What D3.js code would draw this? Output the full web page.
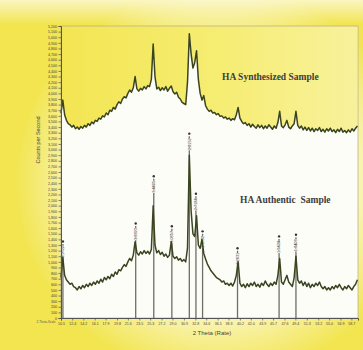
<!DOCTYPE html>
<html><head><meta charset="utf-8">
<script src="https://cdn.jsdelivr.net/npm/d3@7"></script>
<style>html,body{margin:0;padding:0;background:#fff;overflow:hidden}svg{display:block}</style>
</head><body><svg id="chart" width="363" height="350"></svg>
<script>
// ---------- DATA ----------
const twoTheta = [
10.5,10.8,11.1,11.4,11.7,12.0,12.3,12.6,12.9,13.2,
13.5,13.8,14.1,14.4,14.7,15.0,15.3,15.6,15.9,16.2,
16.5,16.8,17.1,17.4,17.7,18.0,18.3,18.6,18.9,19.2,
19.5,19.8,20.1,20.4,20.7,21.0,21.3,21.6,21.9,22.2,
22.5,22.8,23.1,23.4,23.7,24.0,24.3,24.6,24.9,25.2,
25.5,25.8,26.1,26.4,26.7,27.0,27.3,27.6,27.9,28.2,
28.5,28.8,29.1,29.4,29.7,30.0,30.3,30.6,30.9,31.2,
31.5,31.8,32.1,32.4,32.7,33.0,33.3,33.6,33.9,34.2,
34.5,34.8,35.1,35.4,35.7,36.0,36.3,36.6,36.9,37.2,
37.5,37.8,38.1,38.4,38.7,39.0,39.3,39.6,39.9,40.2,
40.5,40.8,41.1,41.4,41.7,42.0,42.3,42.6,42.9,43.2,
43.5,43.8,44.1,44.4,44.7,45.0,45.3,45.6,45.9,46.2,
46.5,46.8,47.1,47.4,47.7,48.0,48.3,48.6,48.9,49.2,
49.5,49.8,50.1,50.4,50.7,51.0,51.3,51.6,51.9,52.2,
52.5,52.8,53.1,53.4,53.7,54.0,54.3,54.6,54.9,55.2,
55.5,55.8,56.1,56.4,56.7,57.0,57.3,57.6,57.9,58.2,
58.5,58.8,59.1,59.4,59.7];

const synthesizedCounts = [
3650,3880,3620,3520,3460,3440,3400,3430,3370,3400,
3360,3410,3380,3430,3400,3460,3430,3490,3460,3520,
3500,3560,3540,3600,3580,3650,3620,3700,3680,3750,
3720,3800,3850,3820,3900,3940,3920,4000,4060,4020,
4100,4300,4080,4040,4090,4060,4120,4080,4140,4120,
4250,4880,4300,4080,4110,4050,4100,4060,4120,4040,
4090,4130,4030,3990,4020,3930,3900,3840,3820,3800,
4200,5060,4700,4450,4550,4760,4250,4000,3880,3960,
3780,3720,3680,3700,3650,3660,3620,3640,3590,3600,
3560,3580,3540,3560,3520,3550,3530,3620,3750,3560,
3500,3460,3480,3430,3460,3400,3450,3410,3380,3440,
3390,3430,3370,3420,3380,3440,3400,3360,3420,3380,
3480,3680,3420,3390,3440,3520,3400,3370,3420,3460,
3680,3430,3380,3420,3350,3400,3340,3390,3330,3380,
3320,3370,3340,3390,3320,3360,3310,3370,3330,3380,
3320,3350,3300,3360,3320,3380,3310,3340,3300,3350,
3310,3370,3330,3380,3420];

const authenticCounts = [
720,1080,760,680,640,600,620,560,540,500,
560,520,580,540,600,560,620,580,640,600,
660,620,690,640,720,680,740,700,780,740,
820,780,860,840,900,950,920,1000,1060,1020,
1120,1360,1160,1120,1180,1140,1200,1150,1190,1140,
1220,2000,1300,1160,1200,1130,1170,1100,1140,1080,
1120,1360,1100,1060,1090,1030,1060,1010,1040,1000,
1250,2900,1900,1500,1450,1820,1300,1240,1400,1150,
1050,960,900,840,800,760,720,700,680,640,
660,600,620,580,620,570,640,760,1000,620,
560,600,540,610,560,620,580,640,560,600,
550,620,580,660,600,560,620,580,640,600,
760,1060,640,600,680,760,640,600,560,720,
1100,680,620,660,580,640,560,620,540,600,
560,620,580,640,560,520,560,500,540,500,
560,520,580,540,600,540,500,560,520,580,
540,500,560,600,680];

// reference peak markers of the authentic pattern
const peakPositions = [10.82, 22.9, 25.9, 28.9, 31.8, 32.9, 34.0, 39.8, 46.7, 49.5];
const peakLabelTops = [1390, 1710, 2550, 1660, 3310, 2240, 1570, 1270, 1480, 1510];
const peakLabels = ["8.1720","3.8823","3.4405","3.0857","2.8152","2.7184","2.6332","2.2631","1.9424","1.8408"];

const xTicks = [10.5,12.35,14.2,16.1,17.9,19.8,21.6,23.5,25.3,27.2,29.0,30.9,32.8,34.6,36.5,38.3,40.2,42.0,43.9,45.7,47.6,49.4,51.3,53.2,55.0,56.9,58.7];
const xTickLabels = ["10.5","12.4","14.2","16.1","17.9","19.8","21.6","23.5","25.3","27.2","29.0","30.9","32.8","34.6","36.5","38.3","40.2","42.0","43.9","45.7","47.6","49.4","51.3","53.2","55.0","56.9","58.7"];
const yTicks = [0,100,200,300,400,500,600,700,800,900,1000,1100,1200,1300,1400,1500,1600,1700,1800,1900,2000,2100,2200,2300,2400,2500,2600,2700,2800,2900,3000,3100,3200,3300,3400,3500,3600,3700,3800,3900,4000,4100,4200,4300,4400,4500,4600,4700,4800,4900,5000,5100,5200];

const seriesNames = ["HA Synthesized Sample", "HA Authentic  Sample"];
const xTitle = "2 Theta (Rate)";
const yTitle = "Counts per Second";

// ---------- DRAW ----------
const W = 363, H = 350;
const P = {left: 61, right: 358, top: 26, bottom: 318};
const svg = d3.select('#chart');
const defs = svg.append('defs');

const rad = defs.append('radialGradient').attr('id','glow')
  .attr('cx',0.6).attr('cy',0.52).attr('r',0.56);
rad.append('stop').attr('offset','0%').attr('stop-color','#fff').attr('stop-opacity',1);
rad.append('stop').attr('offset','55%').attr('stop-color','#fff').attr('stop-opacity',0.85);
rad.append('stop').attr('offset','100%').attr('stop-color','#fff').attr('stop-opacity',0);

const topBand = defs.append('linearGradient').attr('id','topBand')
  .attr('x1',0).attr('x2',0).attr('y1',0).attr('y2',1);
topBand.append('stop').attr('offset','0%').attr('stop-color','#fff').attr('stop-opacity',0.65);
topBand.append('stop').attr('offset','7%').attr('stop-color','#fff').attr('stop-opacity',0);

const skyGrad = defs.append('linearGradient').attr('id','sky')
  .attr('x1',0).attr('x2',1).attr('y1',0).attr('y2',0);
skyGrad.append('stop').attr('offset','0%').attr('stop-color','#f3e552');
skyGrad.append('stop').attr('offset','55%').attr('stop-color','#f6ed74');
skyGrad.append('stop').attr('offset','100%').attr('stop-color','#f8f19c');

svg.append('rect').attr('width',W).attr('height',H).attr('fill','#f2e550');
svg.append('rect').attr('width',W).attr('height',H).attr('fill','url(#glow)');
svg.append('rect').attr('width',W).attr('height',H).attr('fill','url(#topBand)');

const x = d3.scaleLinear().domain([10.5, 59.8]).range([P.left, P.right]);
const y = d3.scaleLinear().domain([0, 5200]).range([P.bottom, P.top]);

// plot interior
svg.append('rect').attr('x',P.left).attr('y',P.top)
  .attr('width',P.right-P.left).attr('height',P.bottom-P.top).attr('fill','#fdfdf8');

const synth = twoTheta.map((t,i)=>({t, c: synthesizedCounts[i]}));
const auth = twoTheta.map((t,i)=>({t, c: authenticCounts[i]}));

// yellow region above the upper pattern
svg.append('path').datum(synth)
  .attr('d', d3.area().x(d=>x(d.t)).y0(P.top).y1(d=>y(d.c)))
  .attr('fill','url(#sky)');

// frame
svg.append('rect').attr('x',P.left).attr('y',P.top)
  .attr('width',P.right-P.left).attr('height',P.bottom-P.top)
  .attr('fill','none').attr('stroke','#b8b28a').attr('stroke-width',0.8);

// peak marker lines with labels sitting on them
const mk = svg.append('g');
peakPositions.forEach((p,i)=>{
  const top = y(peakLabelTops[i]);
  mk.append('line').attr('x1',x(p)).attr('x2',x(p))
    .attr('y1',top+4).attr('y2',P.bottom)
    .attr('stroke','#6e6e66').attr('stroke-width',1.3);
  mk.append('circle').attr('cx',x(p)).attr('cy',top+1.5).attr('r',1.2).attr('fill','#333');
  mk.append('text').attr('transform',`translate(${x(p)},${top+18}) rotate(-90)`)
    .attr('dy','0.35em')
    .attr('font-family','Liberation Sans, Arial, sans-serif').attr('font-size',3.9)
    .attr('fill','#333').attr('stroke','#fdfdf8').attr('stroke-width',0.9)
    .attr('paint-order','stroke').text(peakLabels[i]);
});

const line = d3.line().x(d=>x(d.t)).y(d=>y(d.c));
svg.append('path').datum(synth).attr('d',line)
  .attr('fill','none').attr('stroke','#3a4420').attr('stroke-width',1.5).attr('stroke-linejoin','round');
svg.append('path').datum(auth).attr('d',line)
  .attr('fill','none').attr('stroke','#3a4420').attr('stroke-width',1.5).attr('stroke-linejoin','round');

// axes
const yAxis = svg.append('g').attr('transform',`translate(${P.left},0)`)
  .call(d3.axisLeft(y).tickValues(yTicks).tickSize(2.5).tickPadding(1.5));
const xAxis = svg.append('g').attr('transform',`translate(0,${P.bottom})`)
  .call(d3.axisBottom(x).tickValues(xTicks).tickFormat((d,i)=>xTickLabels[i]).tickSize(2.5).tickPadding(1.5));
[yAxis, xAxis].forEach(a=>{
  a.select('.domain').attr('stroke','#555').attr('stroke-width',1);
  a.selectAll('.tick line').attr('stroke','#555').attr('stroke-width',0.7);
  a.selectAll('text').attr('font-size',3.6).attr('fill','#444')
    .attr('font-family','Liberation Sans, Arial, sans-serif');
});

// titles
svg.append('text').attr('x',212).attr('y',335).attr('text-anchor','middle')
  .attr('font-family','Liberation Sans, Arial, sans-serif').attr('font-size',6)
  .attr('fill','#444').text(xTitle);
svg.append('text').attr('transform','translate(40,140) rotate(-90)').attr('text-anchor','middle')
  .attr('font-family','Liberation Sans, Arial, sans-serif').attr('font-size',5.5)
  .attr('fill','#444').text(yTitle);
svg.append('text').attr('x',46).attr('y',323).attr('text-anchor','middle')
  .attr('font-family','Liberation Sans, Arial, sans-serif').attr('font-size',3)
  .attr('fill','#555').text('2-Theta-Scale');

svg.append('text').attr('x',222).attr('y',80)
  .attr('font-family','Liberation Serif, Times New Roman, serif').attr('font-weight','bold')
  .attr('font-size',9.5).attr('fill','#3c3c3c').text(seriesNames[0]);
svg.append('text').attr('x',240).attr('y',203).attr('xml:space','preserve')
  .attr('font-family','Liberation Serif, Times New Roman, serif').attr('font-weight','bold')
  .attr('font-size',9.5).attr('fill','#3c3c3c').text(seriesNames[1]);
</script>
</body></html>
